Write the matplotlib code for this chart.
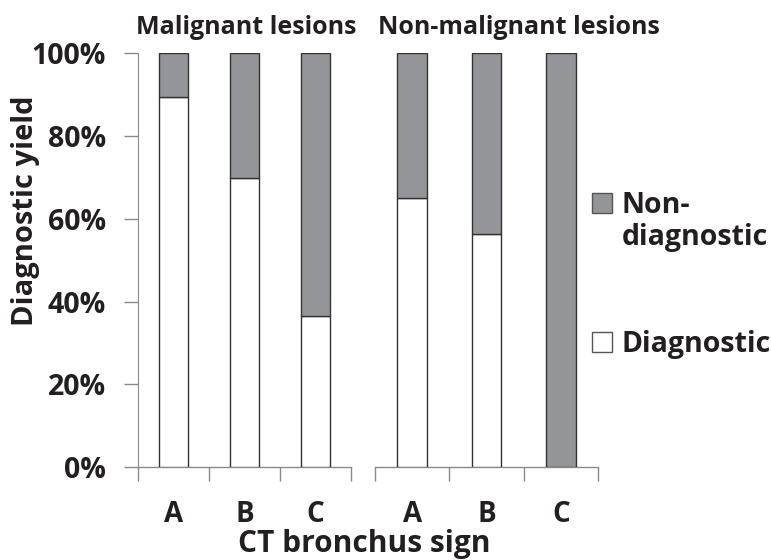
import matplotlib
matplotlib.use("Agg")
import matplotlib.pyplot as plt
from matplotlib.patches import Rectangle
import numpy as np

categories = ["A", "B", "C"]
groups = ["Malignant lesions", "Non-malignant lesions"]
diagnostic = [[89.4, 69.8, 36.5], [65.0, 56.3, 0.0]]
non_diagnostic = [[100 - v for v in g] for g in diagnostic]
yticks = [0, 20, 40, 60, 80, 100]
ytick_labels = ["0%", "20%", "40%", "60%", "80%", "100%"]
legend_labels = ["Non-\ndiagnostic", "Diagnostic"]

plt.rcParams['font.family'] = ['Open Sans', 'DejaVu Sans']
plt.rcParams['font.weight'] = 'bold'

GRAY = "#939598"
EDGE = "#333333"
SPINE = "#8a8a8a"
TXT = "#231f20"

W, Hpx = 771, 560
fig = plt.figure(figsize=(W/100, Hpx/100), dpi=100)
H = 0.739
B = 0.166
ax1 = fig.add_axes([138/W, B, 213/W, H])
ax2 = fig.add_axes([375/W, B, 223/W, H])

for i, ax in enumerate([ax1, ax2]):
    x = np.arange(len(categories))
    ax.bar(x, diagnostic[i], width=0.4, color="white", edgecolor=EDGE, linewidth=1.0, zorder=3)
    ax.bar(x, non_diagnostic[i], width=0.4, bottom=diagnostic[i], color=GRAY,
           edgecolor=EDGE, linewidth=1.0, zorder=3)
    ax.set_xlim(-0.5, 2.5)
    ax.set_ylim(0, 100)
    ax.set_xticks(x)
    ax.set_xticklabels(categories, fontsize=20, fontweight='bold', color=TXT)
    ax.tick_params(axis='x', which='major', length=0, pad=24)
    ax.set_xticks([-0.5, 0.5, 1.5, 2.5], minor=True)
    ax.tick_params(axis='x', which='minor', length=10, width=1, color=SPINE)
    for s in ["top", "right"]:
        ax.spines[s].set_visible(False)
    ax.spines["bottom"].set_color(SPINE)
    ax.spines["bottom"].set_linewidth(1)

fig.text(246/W, 1 - 28/Hpx, groups[0], ha="center", va="center",
         fontsize=18, fontweight='bold', color=TXT)
fig.text(378/W, 1 - 28/Hpx, groups[1], ha="left", va="center",
         fontsize=18, fontweight='bold', color=TXT)

ax1.spines["left"].set_color(SPINE)
ax1.set_yticks(yticks)
ax1.set_yticklabels(ytick_labels, fontsize=20.5, fontweight='bold', color=TXT)
ax1.tick_params(axis='y', length=10, width=1, color=SPINE, pad=13)

fig.text(25/W, 1 - 211/Hpx, "Diagnostic yield", rotation=90, ha="center", va="center",
         fontsize=21, fontweight='bold', color=TXT)

ax2.spines["left"].set_visible(False)
ax2.set_yticks([])

fig.text(364/W, 1 - 544/Hpx, "CT bronchus sign", ha="center", va="center",
         fontsize=21.5, fontweight='bold', color=TXT)

# legend
fills = [GRAY, "white"]
sq_tops = [193, 332]
text_tops = [191, 330]
for fc, sq, tt, lab in zip(fills, sq_tops, text_tops, legend_labels):
    fig.patches.append(Rectangle((592/W, 1 - (sq + 20)/Hpx), 20/W, 20/Hpx,
                                 transform=fig.transFigure, facecolor=fc,
                                 edgecolor="#555555", linewidth=1))
    fig.text(622/W, 1 - tt/Hpx, lab, ha="left", va="top", fontsize=20.5,
             fontweight='bold', color=TXT, linespacing=1.15)

fig.savefig("out.png", dpi=100)
